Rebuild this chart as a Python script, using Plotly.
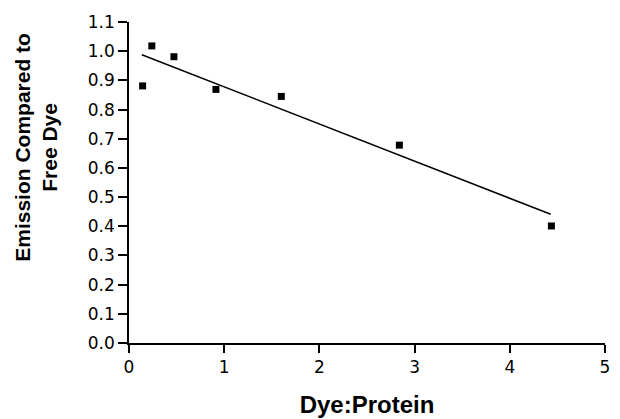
import plotly.graph_objects as go

dye_protein = [0.143, 0.24, 0.472, 0.913, 1.60, 2.84, 4.437]
emission = [0.881, 1.018, 0.981, 0.869, 0.845, 0.678, 0.401]
fit_x = [0.135, 4.43]
fit_y = [0.988, 0.441]
x_ticks = [0, 1, 2, 3, 4, 5]
y_ticks = [0.0, 0.1, 0.2, 0.3, 0.4, 0.5, 0.6, 0.7, 0.8, 0.9, 1.0, 1.1]

OFF = 8  # page body offset
W, H = 620 - OFF, 419 - OFF
L, R, T, B = 129.3 - OFF, 15, 22 - OFF, 76.3
PX0, PX1, PY0, PY1 = 129.3, 605, 342.7, 22

fig = go.Figure()
fig.add_trace(go.Scatter(x=fit_x, y=fit_y, mode="lines",
                         line=dict(color="black", width=1.5), showlegend=False))
fig.add_trace(go.Scatter(x=dye_protein, y=emission, mode="markers",
                         marker=dict(symbol="square", size=7, color="black"),
                         showlegend=False))

font = "Liberation Sans, Arial, Helvetica, sans-serif"
tickfont = "DejaVu Sans, Liberation Sans, sans-serif"
fig.update_layout(
    width=W, height=H,
    margin=dict(l=L, r=R, t=T, b=B, pad=0, autoexpand=False),
    paper_bgcolor="white", plot_bgcolor="white",
    font=dict(family=font, size=17, color="black"),
    xaxis=dict(range=[0, 5], tickvals=x_ticks, ticktext=[str(v) for v in x_ticks],
               showgrid=False, zeroline=False, showline=True, linecolor="black",
               linewidth=1.5, ticks="outside", ticklen=8, tickwidth=1.5,
               tickcolor="black", tickfont=dict(size=17, family=tickfont),
               automargin=False,
               title=dict(text="<b>Dye:Protein</b>", font=dict(size=24), standoff=20)),
    yaxis=dict(range=[0, 1.1], tickvals=y_ticks, ticktext=[f"{v:.1f}" for v in y_ticks],
               showgrid=False, zeroline=False, showline=True, linecolor="black",
               linewidth=1.5, ticks="outside", ticklen=9, tickwidth=1.5,
               tickcolor="black", tickfont=dict(size=17, family=tickfont),
               automargin=False),
    annotations=[dict(text="<b>Emission Compared to<br>Free Dye</b>",
                      xref="paper", yref="paper", x=(36 - PX0) / (PX1 - PX0),
                      y=(PY0 - 147) / (PY0 - PY1), xanchor="center", yanchor="middle",
                      textangle=-90, showarrow=False, font=dict(size=21, family=font))],
)
fig.write_html("out.html")
